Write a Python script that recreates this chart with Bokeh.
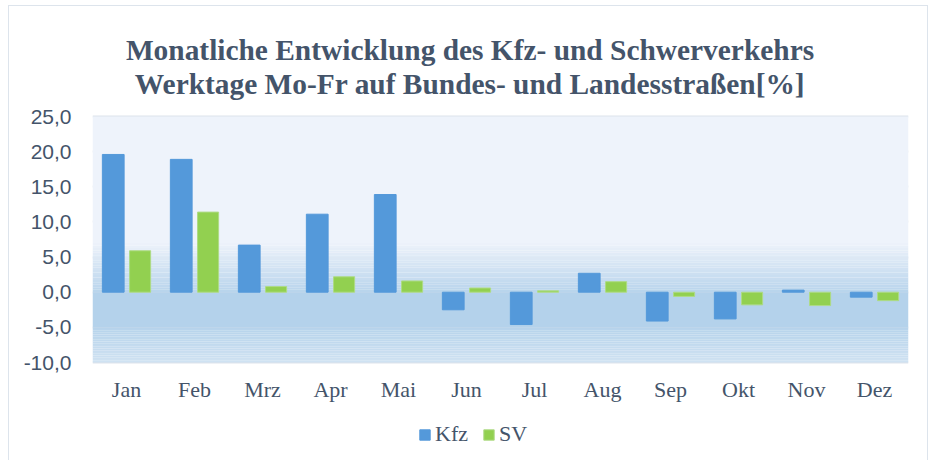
from bokeh.plotting import figure
from bokeh.models import (ColumnDataSource, FactorRange, FixedTicker, CustomJSTickFormatter,
                          BoxAnnotation, Legend, LegendItem, Label, Range1d)
from bokeh.transform import dodge
from bokeh.embed import file_html
from bokeh.resources import INLINE

months = ["Jan", "Feb", "Mrz", "Apr", "Mai", "Jun", "Jul", "Aug", "Sep", "Okt", "Nov", "Dez"]
kfz = [19.6, 18.9, 6.7, 11.1, 13.9, -2.5, -4.6, 2.7, -4.1, -3.8, 0.3, -0.7]
sv = [5.9, 11.4, 0.8, 2.2, 1.6, 0.6, 0.2, 1.5, -0.6, -1.8, -1.9, -1.2]
y_ticks = [-10, -5, 0, 5, 10, 15, 20, 25]
series_names = ["Kfz", "SV"]
title_lines = ["Monatliche Entwicklung des Kfz- und Schwerverkehrs",
               "Werktage Mo-Fr auf Bundes- und Landesstraßen[%]"]

y_min, y_max = y_ticks[0], y_ticks[-1]
px_per_unit = 246 / (y_max - y_min)
y_low = y_min - 98 / px_per_unit    # room below the plot area for month labels and legend
y_high = y_max + 116 / px_per_unit  # room above the plot area for the title

src = ColumnDataSource(dict(month=months, kfz=kfz, sv=sv))

p = figure(frame_width=816, frame_height=460, x_range=FactorRange(*months),
           y_range=Range1d(y_low, y_high), title=None,
           output_backend="svg", toolbar_location=None,
           min_border_left=92, min_border_right=20, min_border_top=0, min_border_bottom=0)

# light chart border (page decoration)
p.border_fill_alpha = 0
p.background_fill_alpha = 0
p.styles = {
    "background-image": "linear-gradient(#dde4ec,#dde4ec),linear-gradient(#dde4ec,#dde4ec),linear-gradient(#dde4ec,#dde4ec)",
    "background-size": "1px 100%, 920px 1px, 1px 100%",
    "background-position": "8px 5px, 8px 5px, 927px 5px",
    "background-repeat": "no-repeat",
}

# Title lines (screen units measured from the frame's bottom-left corner)
for txt, yy in zip(title_lines, [410.7, 376.7]):
    p.add_layout(Label(x=377.5, y=yy, x_units="screen", y_units="screen", text=txt,
                       text_align="center", text_baseline="alphabetic",
                       text_font="Liberation Serif", text_font_style="bold",
                       text_font_size="29.4px", text_color="#44546a"))

# Background gradient bands of the plot area (decorative)
def mix(c1, c2, t):
    a = [int(c1[i:i+2], 16) for i in (1, 3, 5)]
    b = [int(c2[i:i+2], 16) for i in (1, 3, 5)]
    return "#%02x%02x%02x" % tuple(round(a[k] + (b[k] - a[k]) * t) for k in range(3))

p.add_layout(BoxAnnotation(bottom=7, top=y_max, fill_color="#eef3fb", fill_alpha=1, line_color=None, level="underlay"))
n = 20
for i in range(n):
    b = 7 - 7 * (i + 1) / n
    t = 7 - 7 * i / n
    p.add_layout(BoxAnnotation(bottom=b, top=t, fill_color=mix("#edf2fa", "#b8d4ec", (i + 0.5) / n),
                               fill_alpha=1, line_color=None, level="underlay"))
p.add_layout(BoxAnnotation(bottom=-5, top=0, fill_color="#b4d2eb", fill_alpha=1, line_color=None, level="underlay"))
for i in range(n):
    t = -5 - 5 * i / n
    b = -5 - 5 * (i + 1) / n
    p.add_layout(BoxAnnotation(bottom=b, top=t, fill_color=mix("#b6d3eb", "#d0e2f2", (i + 0.5) / n),
                               fill_alpha=1, line_color=None, level="underlay"))

r1 = p.vbar(x=dodge("month", -0.195, range=p.x_range), top="kfz", width=0.32, source=src,
            fill_color="#5499da", line_color="#5499da")
r2 = p.vbar(x=dodge("month", 0.2, range=p.x_range), top="sv", width=0.31, source=src,
            fill_color="#92d050", line_color="#aedb86")

# Axes
p.yaxis.ticker = FixedTicker(ticks=y_ticks)
p.yaxis.formatter = CustomJSTickFormatter(code="return tick.toFixed(1).replace('.', ',');")
p.yaxis.axis_line_color = None
p.yaxis.major_tick_line_color = None
p.yaxis.minor_tick_line_color = None
p.yaxis.major_label_text_font = "Liberation Sans"
p.yaxis.major_label_text_font_size = "21px"
p.yaxis.major_label_text_color = "#44546a"
p.yaxis.major_label_standoff = 15

p.xaxis.fixed_location = y_min
p.xaxis.axis_line_color = None
p.xaxis.major_tick_line_color = None
p.xaxis.minor_tick_line_color = None
p.xaxis.major_label_text_font = "Liberation Serif"
p.xaxis.major_label_text_font_size = "22px"
p.xaxis.major_label_text_color = "#44546a"
p.xaxis.major_label_standoff = 8

p.xgrid.grid_line_color = None
p.ygrid.grid_line_color = "#dde3eb"
p.ygrid.grid_line_width = 2
p.ygrid.level = "underlay"
p.outline_line_color = None

legend = Legend(items=[LegendItem(label=series_names[0], renderers=[r1]),
                       LegendItem(label=series_names[1], renderers=[r2])],
                orientation="horizontal", location=(326, 13),
                label_text_font="Liberation Serif", label_text_font_size="22px",
                label_text_color="#44546a", glyph_width=13, glyph_height=13,
                spacing=14, label_standoff=4, border_line_color=None,
                background_fill_alpha=0, padding=0, margin=0)
p.add_layout(legend)

open("out.html", "w").write(file_html(p, INLINE))
